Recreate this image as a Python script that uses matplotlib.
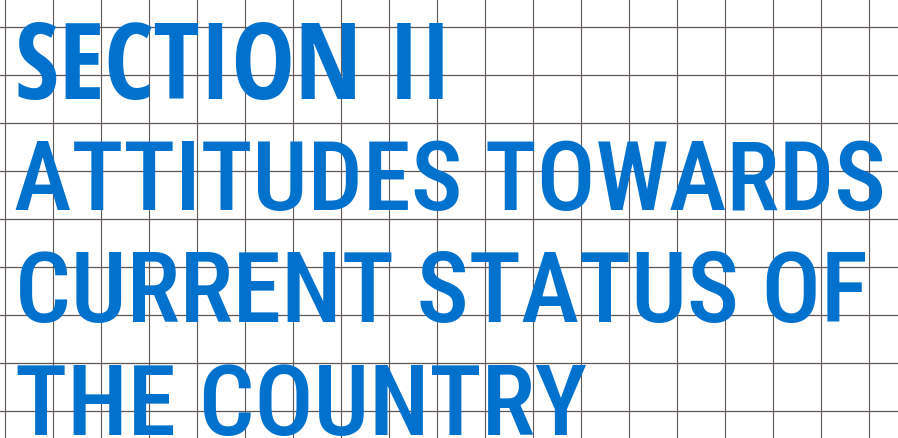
import os
import matplotlib
matplotlib.use("Agg")
import matplotlib.pyplot as plt
from matplotlib import font_manager as fm
from matplotlib.ft2font import FT2Font

# title lines of the section page
lines = ["SECTION II", "ATTITUDES TOWARDS", "CURRENT STATUS OF", "THE COUNTRY"]
bold_line = [True, False, False, False]
left_x = [18, 15, 20, 18]
right_x = [455, 887, 873, 590]
baseline_y = [99, 210, 322, 435]
cap_top_y = [21, 133, 245, 357]

# background grid (pixel positions)
grid_x = [5, 53, 101, 149, 197, 245, 293, 341, 389, 437, 485, 533,
          581, 629, 677, 725, 773, 821, 869]
grid_y = [28, 76, 124, 172, 220, 268, 316, 364, 412]

BLUE = "#0071cd"
GRID = "#5f5757"
W, H, DPI = 898, 439, 100

OK_FAMILIES = ["liberation sans", "dejavu sans", "noto sans", "roboto",
               "open sans", "lato", "inter"]
BAD_WORDS = ["mono", "cjk", "symbol", "math", "emoji", "display"]


def weight_num(w):
    if isinstance(w, str):
        return fm.weight_dict.get(w, 400)
    return w


def metrics(fname, text):
    f = FT2Font(fname)
    for c in set(text.replace(" ", "")):
        if f.get_char_index(ord(c)) == 0:
            return None
    f.set_size(100, 72)
    g = f.load_char(ord("H"))
    cap = g.height / 64.0
    g0 = f.load_char(ord(text[0]))
    lsb = g0.horiBearingX / 64.0
    f.set_text(text)
    w, h = f.get_width_height()
    return cap, w / 64.0, lsb


def pick_font(text, bold, target_aspect):
    want_w = 750 if bold else 560
    best, best_err = None, None
    for e in fm.fontManager.ttflist:
        tag = (e.name + " " + os.path.basename(e.fname)).lower()
        if not any(k in tag for k in OK_FAMILIES):
            continue
        if any(k in tag for k in BAD_WORDS) or e.style != "normal":
            continue
        if "serif" in tag and "sans" not in tag:
            continue
        wn = weight_num(e.weight)
        if bold and wn < 600:
            continue
        if not bold and (wn < 400 or wn > 650):
            continue
        try:
            m = metrics(e.fname, text)
        except Exception:
            continue
        if m is None or m[0] <= 0:
            continue
        cap, w, lsb = m
        err = abs(w / cap - target_aspect) / target_aspect
        err += 0.1 * abs(wn - want_w) / 100
        if best_err is None or err < best_err:
            best, best_err = (e.fname, cap, w, lsb), err
    return best


fig = plt.figure(figsize=(W / DPI, H / DPI), dpi=DPI)
ax = fig.add_axes([0, 0, 1, 1])
ax.set_xlim(0, W)
ax.set_ylim(H, 0)
ax.axis("off")

for x in grid_x:
    ax.axvline(x, color=GRID, lw=0.8, zorder=1)
for y in grid_y:
    ax.axhline(y, color=GRID, lw=0.9, zorder=1)

for i, s in enumerate(lines):
    cap_px = baseline_y[i] - cap_top_y[i]
    width_px = right_x[i] - left_x[i]
    found = pick_font(s, bold_line[i], width_px / cap_px)
    if found is None:
        fp = fm.FontProperties(family="DejaVu Sans",
                               weight="bold" if bold_line[i] else "normal")
        size = cap_px / 0.73 * 72 / DPI
        lsb = 0
    else:
        fname, cap, w, lsb = found
        fp = fm.FontProperties(fname=fname)
        # em size in px so cap height / width fit the box
        em_h = cap_px / cap * 100
        em_w = width_px / w * 100
        em = min(em_h, em_w)
        size = em * 72 / DPI
        lsb = lsb * em / 100
    ax.text(left_x[i] - lsb, baseline_y[i], s, fontproperties=fp,
            fontsize=size, color=BLUE, ha="left", va="baseline", zorder=3)

fig.savefig("out.png", dpi=DPI, facecolor="white")
